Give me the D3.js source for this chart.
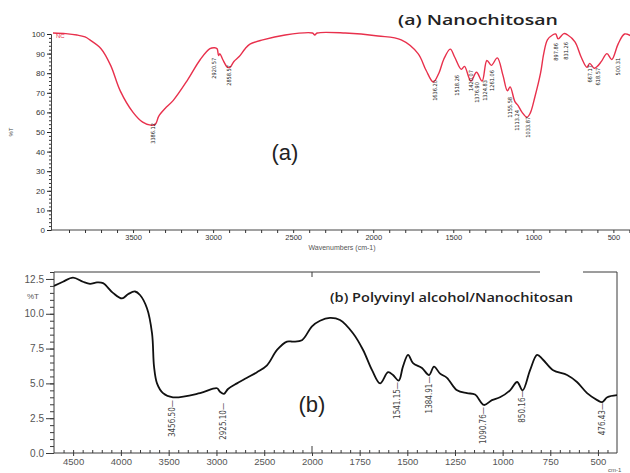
<!DOCTYPE html>
<html>
<head>
<meta charset="utf-8">
<script src="https://cdn.jsdelivr.net/npm/d3@7"></script>
<style>
  body { margin: 0; background: #fff; }
  svg { display: block; }
</style>
</head>
<body>
<div id="chart"></div>
<script>
// ---------- data: (a) Nanochitosan ----------
const wavenumbersA = [4000, 3920, 3850, 3800, 3770, 3700, 3640, 3580, 3500, 3440, 3390, 3360, 3340, 3300, 3250, 3160, 3080, 3020, 2990, 2975, 2966, 2958, 2940, 2910, 2895, 2870, 2837, 2800, 2770, 2690, 2550, 2380, 2365, 2350, 2175, 1970, 1825, 1720, 1670, 1625, 1590, 1560, 1519, 1490, 1450, 1430, 1390, 1355, 1320, 1290, 1262, 1225, 1190, 1162, 1145, 1115, 1095, 1070, 1040, 1020, 990, 955, 935, 912, 880, 860, 845, 810, 785, 740, 700, 665, 648, 620, 600, 575, 540, 510, 470, 430, 390];
const transmittanceA = [100.5, 100.2, 99.5, 98.5, 97, 92.5, 84, 71, 60, 55, 53.5, 54, 58, 62, 66, 76.5, 87, 92.5, 93, 92.5, 89, 90, 87, 83, 83, 86, 88.5, 92.5, 94.8, 97, 99.5, 100.5, 99.5, 100.5, 100.5, 99, 97, 90, 81.5, 75.5, 80, 87, 92.3, 88, 82, 83.5, 76, 80.5, 76, 86.5, 84, 87.8, 79, 71, 73, 65.5, 63.5, 60, 57.5, 59.5, 68, 80, 90, 97, 99.5, 100, 97.5, 100.2, 99.5, 96, 88, 83, 85, 82.5, 83.5, 86, 90, 87, 95, 100, 99];

const peakTextA = ["3386.12", "2920.57", "2858.57", "1636.20", "1518.26", "1420.07", "1376.90", "1324.83", "1261.06", "1155.58", "1113.24", "1033.87", "897.86", "831.26", "667.17", "618.57", "500.31"];
const peakWnA = [3375, 2994, 2900, 1612, 1475, 1387, 1350, 1300, 1256, 1144, 1100, 1031, 856, 794, 644, 594, 469];
const peakTA = [54.6, 87.8, 84.2, 76.5, 79.1, 81.6, 75.5, 76.5, 81.6, 67.9, 61.2, 57.7, 95.4, 95.9, 84.2, 82.7, 87.8];

const xTicksA = [3500, 3000, 2500, 2000, 1500, 1000, 500];
const yTicksA = [0, 10, 20, 30, 40, 50, 60, 70, 80, 90, 100];

// ---------- data: (b) Polyvinyl alcohol/Nanochitosan ----------
const wavenumbersB = [4700, 4606, 4501, 4397, 4323, 4250, 4187, 4083, 3988, 3926, 3852, 3800, 3727, 3674, 3653, 3622, 3559, 3455, 3172, 2994, 2963, 2921, 2879, 2785, 2680, 2576, 2471, 2366, 2262, 2199, 2105, 2000, 1958, 1906, 1853, 1785, 1732, 1685, 1643, 1601, 1575, 1545, 1523, 1496, 1470, 1423, 1386, 1360, 1328, 1292, 1239, 1187, 1145, 1098, 1056, 1014, 961, 924, 895, 856, 819, 788, 735, 662, 610, 557, 504, 478, 451, 400];
const transmittanceB = [12.0, 12.3, 12.6, 12.3, 12.15, 12.25, 12.2, 11.5, 11.1, 11.4, 11.6, 11.35, 10.4, 8.6, 6.2, 5.0, 4.3, 4.0, 4.3, 4.65, 4.4, 4.25, 4.6, 5.0, 5.4, 5.8, 6.3, 7.4, 8.0, 8.0, 8.1, 9.1, 9.5, 9.7, 9.55, 8.6, 7.4, 5.95, 5.0, 5.8, 5.6, 5.2, 6.2, 7.05, 6.45, 6.1, 5.6, 6.2, 5.7, 5.4, 4.5, 4.3, 4.2, 3.45, 3.8, 4.0, 4.5, 5.1, 4.5, 5.95, 7.05, 6.7, 5.95, 5.6, 5.1, 4.3, 3.8, 3.65, 4.0, 4.15];

const peakTextB = ["3456.50", "2925.10", "1541.15", "1384.91", "1090.76", "850.16", "476.43"];
const peakWnB = [3455, 2921, 1549, 1386, 1098, 898, 478];
const peakTB = [3.8, 3.6, 5.1, 5.5, 3.3, 4.5, 3.6];

const xTicksB = [4500, 4000, 3500, 3000, 2500, 2000, 1750, 1500, 1250, 1000, 750, 500];
const yTicksB = [0, 2.5, 5, 7.5, 10, 12.5];

// ---------- svg ----------
const W = 630, H = 473;
const svg = d3.select("#chart").append("svg")
  .attr("width", W)
  .attr("height", H)
  .style("font-family", "'Liberation Sans', Arial, sans-serif");

// ================= panel (a) =================
const xA = d3.scaleLinear().domain([4000, 390]).range([53, 631]);
const yA = d3.scaleLinear().domain([0, 100]).range([230, 34]);

const gA = svg.append("g");

// minor ticks, y (dotted look)
gA.append("g")
  .attr("transform", "translate(51,0)")
  .call(d3.axisLeft(yA).tickValues(d3.range(0, 101, 2)).tickSize(2).tickFormat(""))
  .call(g => g.select(".domain").attr("stroke", "#444"))
  .call(g => g.selectAll(".tick line").attr("stroke", "#333"));

// major y ticks
gA.append("g")
  .attr("transform", "translate(51,0)")
  .call(d3.axisLeft(yA).tickValues(yTicksA).tickSize(4).tickPadding(2).tickFormat(d3.format("d")))
  .call(g => g.select(".domain").remove())
  .call(g => g.selectAll(".tick line").attr("stroke", "#222"))
  .call(g => g.selectAll("text").attr("font-size", 8).attr("fill", "#333"));

// x axis
gA.append("g")
  .attr("transform", "translate(0,230)")
  .call(d3.axisBottom(xA).tickValues(d3.range(3900, 390, -100)).tickSize(3).tickPadding(2)
    .tickFormat(d => xTicksA.includes(d) ? d : ""))
  .call(g => g.select(".domain").attr("d", "M51,0H630").attr("stroke", "#444"))
  .call(g => g.selectAll(".tick line").attr("stroke", "#333"))
  .call(g => g.selectAll("text").attr("font-size", 7.5).attr("fill", "#333"));

gA.append("text")
  .attr("x", 342).attr("y", 250)
  .attr("text-anchor", "middle")
  .attr("font-size", 7)
  .attr("fill", "#555")
  .text("Wavenumbers (cm-1)");

gA.append("text")
  .attr("transform", "translate(13,132) rotate(-90)")
  .attr("text-anchor", "middle")
  .attr("font-size", 6)
  .attr("fill", "#444")
  .text("%T");

const lineA = d3.line()
  .x((d, i) => xA(wavenumbersA[i]))
  .y(d => yA(d))
  .curve(d3.curveCatmullRom.alpha(0.5));

gA.append("path")
  .datum(transmittanceA)
  .attr("fill", "none")
  .attr("stroke", "#e8304c")
  .attr("stroke-width", 1.4)
  .attr("d", lineA);

gA.append("text")
  .attr("x", 56).attr("y", 38)
  .attr("font-size", 6)
  .attr("fill", "#e8304c")
  .text("NC");

gA.selectAll(".peakA")
  .data(peakTextA)
  .enter().append("text")
  .attr("class", "peakA")
  .attr("transform", (d, i) => `translate(${xA(peakWnA[i])},${yA(peakTA[i])}) rotate(-90)`)
  .attr("text-anchor", "end")
  .attr("dominant-baseline", "middle")
  .attr("font-family", "'DejaVu Sans Condensed', 'Liberation Sans Narrow', sans-serif")
  .attr("font-size", 5.6)
  .attr("fill", "#222")
  .text(d => d);

gA.append("text")
  .attr("x", 285).attr("y", 160)
  .attr("text-anchor", "middle")
  .attr("font-size", 22)
  .attr("fill", "#222")
  .text("(a)");

gA.append("text")
  .attr("x", 398).attr("y", 25)
  .attr("font-family", "'Open Sans', sans-serif")
  .attr("font-weight", 600)
  .attr("font-size", 14)
  .attr("textLength", 160)
  .attr("lengthAdjust", "spacingAndGlyphs")
  .attr("fill", "#222")
  .text("(a) Nanochitosan");

// ================= panel (b) =================
const xB = d3.scaleLinear().domain([4700, 2000, 400]).range([54, 312, 617]);
const yB = d3.scaleLinear().domain([0, 13]).range([453, 272]);

const gB = svg.append("g");
const frame = "#3a3a3a";

// frame: top line with a gap, right line
gB.append("path")
  .attr("d", `M54,272H540M583,272H617V453`)
  .attr("fill", "none")
  .attr("stroke", frame)
  .attr("stroke-width", 1);

// minor y ticks
gB.append("g")
  .attr("transform", "translate(54,0)")
  .call(d3.axisLeft(yB).tickValues(d3.range(0, 13.01, 0.5)).tickSize(4).tickFormat(""))
  .call(g => g.select(".domain").attr("d", "M0,272V453").attr("stroke", frame))
  .call(g => g.selectAll(".tick line").attr("stroke", frame));

// major y ticks
gB.append("g")
  .attr("transform", "translate(54,0)")
  .call(d3.axisLeft(yB).tickValues(yTicksB).tickSize(8).tickPadding(2).tickFormat(d3.format(".1f")))
  .call(g => g.select(".domain").remove())
  .call(g => g.selectAll(".tick line").attr("stroke", frame))
  .call(g => g.selectAll("text").attr("font-size", 10).attr("fill", "#555"));

// minor x ticks (inward)
const minorB = d3.range(4600, 2000, -100).concat(d3.range(1950, 400, -50));
gB.append("g")
  .attr("transform", "translate(0,453)")
  .call(d3.axisTop(xB).tickValues(minorB).tickSize(3).tickFormat(""))
  .call(g => g.select(".domain").attr("d", "M54,0H617").attr("stroke", frame))
  .call(g => g.selectAll(".tick line").attr("stroke", frame));

// major x ticks with labels
gB.append("g")
  .attr("transform", "translate(0,453)")
  .call(d3.axisBottom(xB).tickValues(xTicksB).tickSize(3).tickPadding(2).tickFormat(d3.format("d")))
  .call(g => g.select(".domain").remove())
  .call(g => g.selectAll(".tick line").attr("stroke", frame))
  .call(g => g.selectAll("text").attr("font-size", 9.5).attr("fill", "#555"));

// scale-change marks at 2000
gB.append("line")
  .attr("x1", xB(2000)).attr("x2", xB(2000))
  .attr("y1", 453).attr("y2", 446)
  .attr("stroke", frame);
gB.append("line")
  .attr("x1", xB(2000)).attr("x2", xB(2000))
  .attr("y1", 272).attr("y2", 277)
  .attr("stroke", frame);

gB.append("text")
  .attr("x", 27).attr("y", 299)
  .attr("font-size", 8)
  .attr("fill", "#555")
  .text("%T");

gB.append("text")
  .attr("x", 608).attr("y", 472)
  .attr("font-size", 6)
  .attr("fill", "#555")
  .text("cm-1");

const lineB = d3.line()
  .x((d, i) => xB(wavenumbersB[i]))
  .y(d => yB(d))
  .curve(d3.curveCatmullRom.alpha(0.5));

gB.append("path")
  .datum(transmittanceB)
  .attr("fill", "none")
  .attr("stroke", "#111")
  .attr("stroke-width", 1.8)
  .attr("d", lineB);

gB.selectAll(".peakB")
  .data(peakTextB)
  .enter().append("text")
  .attr("class", "peakB")
  .attr("transform", (d, i) => `translate(${xB(peakWnB[i])},${yB(peakTB[i])}) rotate(-90)`)
  .attr("text-anchor", "end")
  .attr("dominant-baseline", "middle")
  .attr("font-family", "'DejaVu Sans Condensed', sans-serif")
  .attr("font-size", 8)
  .attr("fill", "#444")
  .text(d => d + "\u2014");

gB.append("text")
  .attr("x", 312).attr("y", 412)
  .attr("text-anchor", "middle")
  .attr("font-size", 22)
  .attr("fill", "#222")
  .text("(b)");

gB.append("text")
  .attr("x", 330).attr("y", 302)
  .attr("font-family", "'Open Sans', sans-serif")
  .attr("font-weight", 600)
  .attr("font-size", 13)
  .attr("textLength", 243)
  .attr("lengthAdjust", "spacingAndGlyphs")
  .attr("fill", "#222")
  .text("(b) Polyvinyl alcohol/Nanochitosan");
</script>
</body>
</html>
